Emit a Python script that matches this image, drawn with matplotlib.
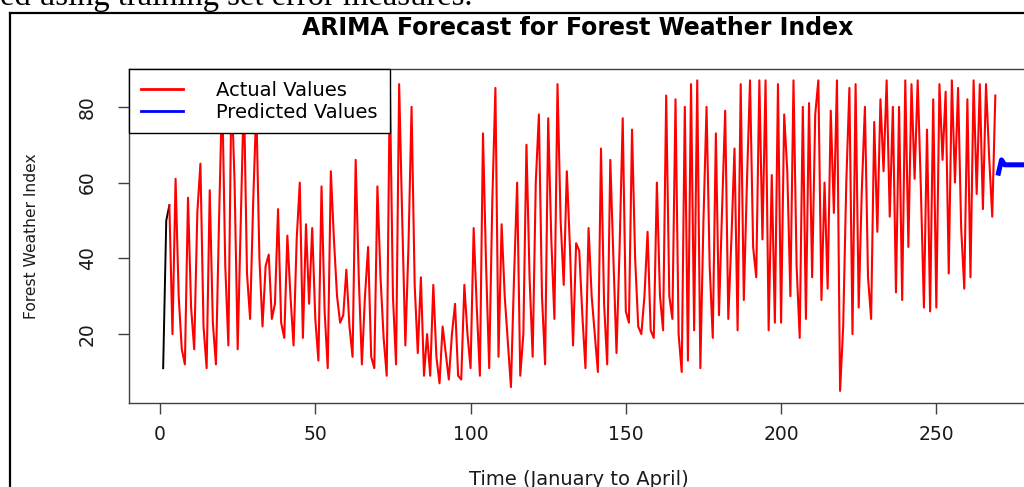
import matplotlib
matplotlib.use('Agg')
import matplotlib.pyplot as plt
from matplotlib.lines import Line2D
import numpy as np

# values (one per time step)
black_x = [1, 2, 3]
black_y = [11, 50, 54]

actual = [
    54, 20, 61, 30, 16, 12, 56, 27, 16, 52,
    65, 22, 11, 58, 23, 12, 50, 85, 38, 17,
    86, 60, 16, 50, 84, 36, 24, 55, 80, 40,
    22, 38, 41, 24, 28, 53, 23, 19, 46, 30,
    17, 45, 60, 19, 49,
    28, 48, 24, 13, 59, 26, 11, 63, 45, 30,
    23, 25, 37, 22, 14, 66, 35, 12, 30, 43,
    14, 11, 59, 35, 19, 9, 87, 30, 12, 86,
    50, 17, 43, 80, 33, 15, 35, 9, 20, 9,
    33, 14, 7, 22, 15, 8, 20, 28, 9, 8,
    33, 20, 11, 48, 27, 9, 73, 38, 11, 55,
    85, 14, 49, 30, 18, 6, 35, 60, 9, 20,
    70, 35, 14, 60, 78, 30, 12, 77, 45, 24,
    86, 50, 33, 63, 43, 17, 44, 42, 25, 11,
    48, 30, 20, 10, 69, 28, 12, 66, 40, 15,
    43, 77, 26, 23, 74, 40, 22, 20, 30, 47,
    21, 19, 60, 30, 21, 83, 30, 24, 82, 20,
    10, 80, 13, 86, 21, 87, 11, 50, 80, 38,
    19, 73, 25, 53, 79, 24, 45, 69, 21, 86,
    29, 60, 87, 43, 35, 87, 45, 87, 21, 62,
    23, 86, 23, 78, 63, 30, 87, 38, 19, 80,
    24, 81, 35, 78, 87, 29, 60, 32, 79, 52,
    87, 5, 22, 60, 85, 20, 86, 27, 58, 80,
    35, 24, 76, 47, 82, 63, 87, 51, 80, 31,
    80, 29, 87, 43, 86, 61, 87, 59, 27, 74,
    26,
    82, 27, 86, 66, 84, 36, 87, 60, 85, 48,
    32, 82, 35, 87, 57, 86, 53, 86, 67, 51,
    83,
]
actual_x = np.arange(3, 3 + len(actual))

predicted = [62.5, 66.0, 64.7, 64.7, 64.7, 64.7, 64.7, 64.7, 64.7, 64.7,
             64.7, 64.7, 64.7, 64.7, 64.7, 64.7]
pred_x = np.arange(270, 270 + len(predicted))

xticks = [0, 50, 100, 150, 200, 250]
yticks = [20, 40, 60, 80]

W, H = 1024, 487
fig = plt.figure(figsize=(W / 100, H / 100), dpi=100)


def fx(px):
    return px / W


def fy(py):
    return 1 - py / H


# page frame and caption line cut by the crop
fig.add_artist(Line2D([fx(10), fx(10)], [fy(13), 0], color='black', lw=1.6,
                      transform=fig.transFigure))
fig.add_artist(Line2D([fx(10), 1], [fy(13), fy(13)], color='black', lw=1.6,
                      transform=fig.transFigure))
fig.text(fx(0), fy(5.5), "ed using training set error measures.",
         family='Liberation Serif', fontsize=23.5, va='baseline', ha='left')

ax = fig.add_axes([fx(129), fy(403), (1027 - 129) / W, (403 - 69) / H])
ax.plot(black_x, black_y, color='black', lw=1.4)
ax.plot(actual_x, actual, color='red', lw=1.5)
ax.plot(pred_x, predicted, color='blue', lw=3.6)

ax.set_xlim(-10, 279.2)
ax.set_ylim(1.8, 90.0)
ax.set_xticks(xticks)
ax.set_yticks(yticks)
for s in ax.spines.values():
    s.set_color('#404040')
    s.set_linewidth(1)
ax.tick_params(direction='out', length=8, width=1, color='#404040',
               labelsize=13.5, labelcolor='#1a1a1a')
ax.tick_params(axis='x', pad=8)
ax.tick_params(axis='y', pad=15, labelrotation=90)
for lbl in ax.get_yticklabels():
    lbl.set_va('center')

handles = [Line2D([], [], color='red', lw=2, label='Actual Values'),
           Line2D([], [], color='blue', lw=2, label='Predicted Values')]
leg = ax.legend(handles=handles, loc='upper left', bbox_to_anchor=(0, 1),
                borderaxespad=0, fontsize=14, handlelength=2.2,
                handletextpad=1.7, borderpad=0.6, labelspacing=0.15,
                fancybox=False, framealpha=1, edgecolor='black')
leg.get_frame().set_linewidth(1)

fig.text(fx(578), fy(35), 'ARIMA Forecast for Forest Weather Index',
         ha='center', va='baseline', fontsize=17, fontweight='bold')
fig.text(fx(579), fy(485), 'Time (January to April)', ha='center',
         va='baseline', fontsize=14, color='#1a1a1a')
fig.text(fx(32), fy(236), 'Forest Weather Index', rotation=90, ha='center',
         va='center', fontsize=11.2, color='#1a1a1a')

fig.savefig('out.png', dpi=100)
